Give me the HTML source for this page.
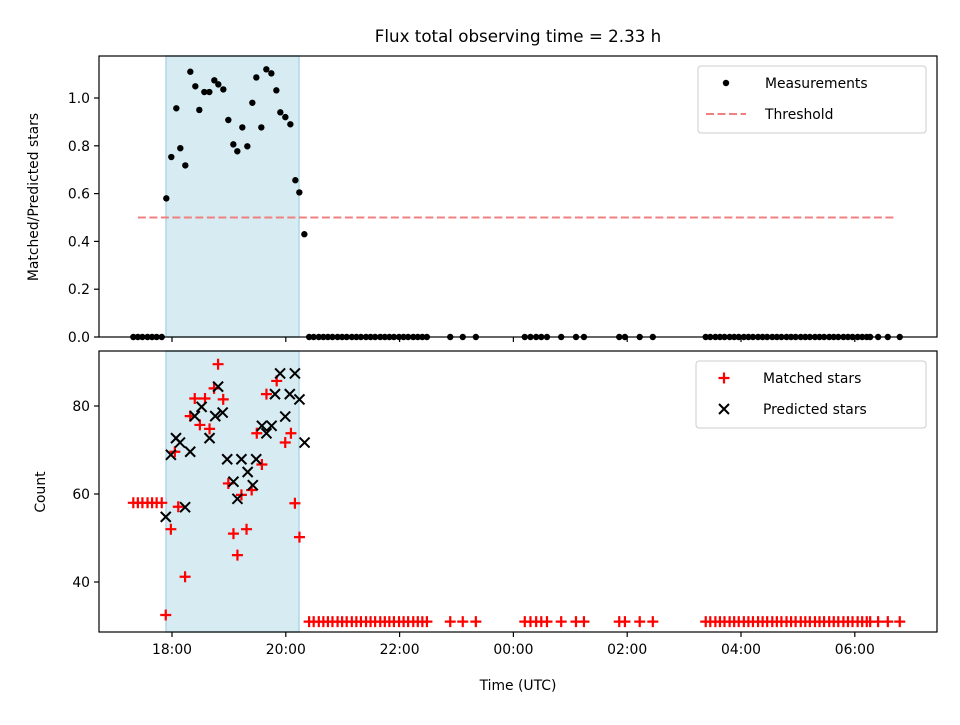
<!DOCTYPE html>
<html><head><meta charset="utf-8"><style>
body{margin:0;background:#fff}
svg text{font-family:"DejaVu Sans","Liberation Sans",sans-serif;fill:#000}
</style></head><body>
<svg id="c" width="960" height="720" xmlns="http://www.w3.org/2000/svg"></svg>
<script>
const preZeroTimes=[-0.68,-0.60,-0.52,-0.43,-0.35,-0.27,-0.18];
const measTimes=[-0.10,-0.012,0.076,0.146,0.234,0.322,0.410,0.480,0.568,0.656,0.744,0.814,0.902,0.990,1.078,1.148,1.236,1.324,1.412,1.482,1.570,1.658,1.746,1.834,1.904,1.992,2.080,2.168,2.238,2.326];
const measVals=[0.58,0.753,0.957,0.79,0.718,1.11,1.049,0.95,1.025,1.025,1.074,1.057,1.036,0.908,0.806,0.777,0.877,0.798,0.98,1.086,0.877,1.12,1.103,1.032,0.94,0.92,0.89,0.656,0.605,0.43];
const postZeroTimes=[2.41,2.49,2.58,2.66,2.74,2.82,2.91,2.99,3.07,3.16,3.24,3.32,3.41,3.49,3.57,3.66,3.74,3.82,3.90,3.99,4.07,4.15,4.24,4.32,4.40,4.48,4.89,5.11,5.34,6.20,6.30,6.40,6.49,6.59,6.84,7.10,7.24,7.86,7.96,8.22,8.45,9.38,9.46,9.55,9.63,9.71,9.80,9.88,9.96,10.05,10.13,10.21,10.30,10.38,10.46,10.55,10.63,10.71,10.80,10.88,10.96,11.05,11.13,11.21,11.30,11.38,11.46,11.55,11.63,11.71,11.80,11.88,11.96,12.05,12.13,12.21,12.27,12.41,12.58,12.79];
const preMatchedVal=58, zeroMatchedVal=31;
const matchedTimes=[0.81,0.74,1.84,1.66,0.40,0.58,0.90,0.32,0.49,0.66,1.49,2.09,1.99,0.05,1.58,0.99,1.40,1.22,0.11,2.16,-0.02,1.08,1.31,2.24,1.15,0.23,-0.11];
const matchedVals=[89.5,84,85.7,82.7,81.7,81.7,81.5,77.7,75.7,74.8,73.8,73.8,71.7,69.6,66.7,62.4,60.9,59.8,57.1,57.9,52,51,52,50.2,46.1,41.2,32.5];
const predTimes=[1.90,2.16,0.81,1.81,2.07,2.24,0.52,0.40,0.76,0.89,1.99,1.58,1.75,1.66,0.66,0.07,0.14,2.33,0.32,-0.02,0.97,1.22,1.48,1.33,1.08,1.42,1.15,0.23,-0.11];
const predVals=[87.4,87.4,84.4,82.7,82.7,81.5,79.8,77.7,77.7,78.5,77.6,75.5,75.5,73.8,72.7,72.7,71.7,71.7,69.6,68.9,67.9,67.9,67.9,65,62.8,62,58.9,57,54.8];
const xTickVals=[0,2,4,6,8,10,12];
const xTickLabels=["18:00","20:00","22:00","00:00","02:00","04:00","06:00"];
const topTicks=[0,0.2,0.4,0.6,0.8,1.0];
const botTicks=[40,60,80];
const shade=[-0.105,2.232];
const threshold=0.5, threshRange=[-0.6,12.72];

const NS="http://www.w3.org/2000/svg", svg=document.getElementById('c');
function el(t,a,p){const e=document.createElementNS(NS,t);for(const k in a)e.setAttribute(k,a[k]);(p||svg).appendChild(e);return e;}
const L=99,R=937,T1=56,B1=337,T2=351,B2=632;
const X=h=>172+(h)*56.9;
const Y1=v=>337-v*239;
const Y2=v=>406-(v-80)*4.4;

let t=el('text',{x:518,y:42,'font-size':'16.7','text-anchor':'middle'});t.textContent='Flux total observing time = 2.33 h';


function panel(top,bot,name){
  const g=el('g',{});
  const s=el('rect',{x:X(shade[0]),y:top,width:X(shade[1])-X(shade[0]),height:bot-top,fill:'#add8e6','fill-opacity':0.5,stroke:'#add8e6','stroke-width':1.5},g);
  
  return g;
}
function frame(g,top,bot){
  const f=el('rect',{x:L,y:top,width:R-L,height:bot-top,fill:'none',stroke:'#000','stroke-width':1.2},g);
  
  xTickVals.forEach(v=>{el('line',{x1:X(v),x2:X(v),y1:bot,y2:bot+5,stroke:'#000','stroke-width':1.2},g);});
}
const g1=panel(T1,B1,'top-panel');
const th=el('line',{x1:X(threshRange[0]),x2:X(threshRange[1]),y1:Y1(threshold),y2:Y1(threshold),stroke:'#f08080','stroke-width':2,'stroke-dasharray':'8,3.5'},g1);

function dot(h,v){const c=el('circle',{cx:X(h),cy:Y1(v),r:3.2,fill:'#000'},g1);}
preZeroTimes.forEach(h=>dot(h,0));
measTimes.forEach((h,i)=>dot(h,measVals[i]));
postZeroTimes.forEach(h=>dot(h,0));
frame(g1,T1,B1);
topTicks.forEach(v=>{el('line',{x1:L-5,x2:L,y1:Y1(v),y2:Y1(v),stroke:'#000','stroke-width':1.2},g1);
  const tx=el('text',{x:L-9,y:Y1(v)+5,'font-size':'13.9','text-anchor':'end'},g1);tx.textContent=v.toFixed(1);
  });
let yl=el('text',{x:38,y:197,'font-size':'13.9','text-anchor':'middle',transform:'rotate(-90 38 197)'});yl.textContent='Matched/Predicted stars';


const g2=panel(T2,B2,'bottom-panel');
function plus(h,v){const x=X(h),y=Y2(v);const p=el('path',{d:`M${x-5.5},${y}H${x+5.5}M${x},${y-5.5}V${y+5.5}`,stroke:'#f00','stroke-width':2.2},g2);}
function cross(h,v){const x=X(h),y=Y2(v),d=5;const p=el('path',{d:`M${x-d},${y-d}L${x+d},${y+d}M${x-d},${y+d}L${x+d},${y-d}`,stroke:'#000','stroke-width':2},g2);}
preZeroTimes.forEach(h=>plus(h,preMatchedVal));
matchedTimes.forEach((h,i)=>plus(h,matchedVals[i]));
postZeroTimes.forEach(h=>plus(h,zeroMatchedVal));
predTimes.forEach((h,i)=>cross(h,predVals[i]));
frame(g2,T2,B2);
botTicks.forEach(v=>{el('line',{x1:L-5,x2:L,y1:Y2(v),y2:Y2(v),stroke:'#000','stroke-width':1.2},g2);
  const tx=el('text',{x:L-9,y:Y2(v)+5,'font-size':'13.9','text-anchor':'end'},g2);tx.textContent=v;
  });
xTickVals.forEach((v,i)=>{const tx=el('text',{x:X(v),y:B2+22,'font-size':'13.9','text-anchor':'middle'},g2);tx.textContent=xTickLabels[i];
  });
let yl2=el('text',{x:45,y:492,'font-size':'13.9','text-anchor':'middle',transform:'rotate(-90 45 492)'});yl2.textContent='Count';

let xl=el('text',{x:518,y:690,'font-size':'13.9','text-anchor':'middle'});xl.textContent='Time (UTC)';


function legend(x,y,w,h,name,items){
  const g=el('g',{});
  el('rect',{x:x,y:y,width:w,height:h,rx:3,fill:'#fff','fill-opacity':0.8,stroke:'#ccc'},g);
  items.forEach((it,i)=>{const cy=y+17+i*31;it.draw(g,x+28,cy);
    const tx=el('text',{x:x+67,y:cy+5,'font-size':'13.9'},g);tx.textContent=it.label;
    });
}
legend(698,66,228,67,'top-legend',[
 {label:'Measurements',draw:(g,x,y)=>el('circle',{cx:x,cy:y,r:3.2,fill:'#000'},g)},
 {label:'Threshold',draw:(g,x,y)=>el('line',{x1:x-20,x2:x+20,y1:y,y2:y,stroke:'#f08080','stroke-width':2,'stroke-dasharray':'8,3.5'},g)}]);
legend(696,361,230,67,'bottom-legend',[
 {label:'Matched stars',draw:(g,x,y)=>el('path',{d:`M${x-5.5},${y}H${x+5.5}M${x},${y-5.5}V${y+5.5}`,stroke:'#f00','stroke-width':2.2},g)},
 {label:'Predicted stars',draw:(g,x,y)=>el('path',{d:`M${x-5},${y-5}L${x+5},${y+5}M${x-5},${y+5}L${x+5},${y-5}`,stroke:'#000','stroke-width':2},g)}]);
</script>
</body></html>
